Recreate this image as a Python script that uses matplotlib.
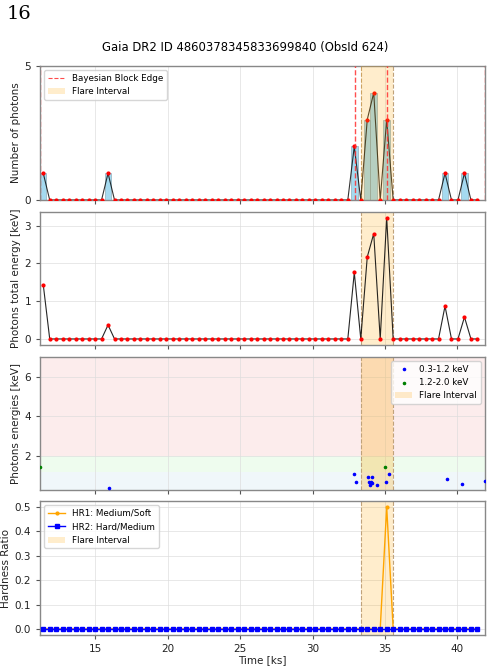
import numpy as np
import matplotlib
matplotlib.use("Agg")
import matplotlib.pyplot as plt
from matplotlib.patches import Patch
from matplotlib.lines import Line2D

# ---------------- data ----------------
title = "Gaia DR2 ID 4860378345833699840 (ObsId 624)"
page_label = "16"

t_start = 11.17
t_stop = 41.90
bin_width = 0.4475
n_bins = 68

counts = [1, 0, 0, 0, 0, 0, 0, 0, 0, 0,
          1, 0, 0, 0, 0, 0, 0, 0, 0, 0,
          0, 0, 0, 0, 0, 0, 0, 0, 0, 0,
          0, 0, 0, 0, 0, 0, 0, 0, 0, 0,
          0, 0, 0, 0, 0, 0, 0, 0, 2, 0,
          3, 4, 0, 3, 0, 0, 0, 0, 0, 0,
          0, 0, 1, 0, 0, 1, 0, 0]

total_energy = [1.44, 0, 0, 0, 0, 0, 0, 0, 0, 0,
                0.37, 0, 0, 0, 0, 0, 0, 0, 0, 0,
                0, 0, 0, 0, 0, 0, 0, 0, 0, 0,
                0, 0, 0, 0, 0, 0, 0, 0, 0, 0,
                0, 0, 0, 0, 0, 0, 0, 0, 1.76, 0,
                2.17, 2.79, 0, 3.21, 0, 0, 0, 0, 0, 0,
                0, 0, 0.87, 0, 0, 0.58, 0, 0]

hr1 = [0.0] * 53 + [0.5] + [0.0] * 14
hr2 = [0.0] * 68

# individual photons
soft_times = [15.94, 32.83, 32.96, 33.79, 33.89, 33.93, 34.00, 34.12, 34.12,
              34.44, 35.03, 35.24, 39.29, 40.28, 41.87]
soft_energies = [0.38, 1.08, 0.68, 0.93, 0.71, 0.53, 0.68, 0.93, 0.65,
                 0.53, 0.68, 1.08, 0.86, 0.58, 0.73]
medium_times = [11.17, 34.99]
medium_energies = [1.44, 1.45]

block_edges = [11.17, 32.90, 35.13, 41.87]
flare_start, flare_end = 33.31, 35.54

soft_band = (0.3, 1.2)
medium_band = (1.2, 2.0)
hard_band = (2.0, 7.0)

# ---------------- figure ----------------
W, H = 491, 666
fig = plt.figure(figsize=(W / 100, H / 100), dpi=100)

fs = 7.5
plt.rcParams.update({
    "font.size": fs,
    "axes.edgecolor": "#888888",
    "xtick.color": "#555555",
    "ytick.color": "#555555",
    "xtick.labelcolor": "#222222",
    "ytick.labelcolor": "#222222",
    "axes.labelcolor": "#222222",
    "xtick.labelsize": fs,
    "ytick.labelsize": fs,
    "axes.labelpad": 2.5,
    "legend.fontsize": 6.3,
})

left, right = 40 / W, 485 / W
panels_px = [(66, 200), (211.7, 345), (356.7, 490), (501, 635)]
axes = []
for i, (top, bot) in enumerate(panels_px):
    rect = [left, 1 - bot / H, right - left, (bot - top) / H]
    if i == 0:
        ax = fig.add_axes(rect)
    else:
        ax = fig.add_axes(rect, sharex=axes[0])
    ax.grid(True, color="#dddddd", linewidth=0.6, alpha=0.8)
    ax.set_axisbelow(True)
    for s in ax.spines.values():
        s.set_linewidth(1.0)
    ax.tick_params(length=3, width=0.8)
    axes.append(ax)
ax1, ax2, ax3, ax4 = axes

centers = t_start + bin_width / 2 + bin_width * np.arange(n_bins)
flare_edge_color = "#c0a27a"

# Panel 1: counts
ax1.bar(centers, counts, width=bin_width, color="skyblue", alpha=0.75,
        edgecolor="#7a9aa8", linewidth=0.5, zorder=2)
ax1.plot(centers, counts, color="black", linewidth=0.8, alpha=0.8, zorder=3)
ax1.plot(centers, counts, "o", color="red", markersize=2.0, zorder=4)
ax1.axvspan(flare_start, flare_end, color="orange", alpha=0.2, zorder=4, linewidth=0)
for e in (flare_start, flare_end):
    ax1.axvline(e, color=flare_edge_color, linestyle="--", linewidth=0.8, zorder=2.4)
for k, e in enumerate(block_edges):
    ax1.axvline(e, color="#ff3030", linestyle="--", linewidth=1.0, alpha=0.85,
                zorder=2.0 if k == 0 else 5)
ax1.set_ylim(0, 5)
ax1.set_yticks([0, 5])
ax1.set_ylabel("Number of photons")
ax1.legend(handles=[Line2D([], [], color="red", linestyle="--", linewidth=0.8, alpha=0.7),
                    Patch(facecolor="orange", alpha=0.2)],
           labels=["Bayesian Block Edge", "Flare Interval"], loc="upper left")

fig.suptitle(title, x=0.5, y=1 - 48 / H, fontsize=8.4, va="center")

# Panel 2: total energy
ax2.plot(centers, total_energy, color="black", linewidth=0.8, alpha=0.85, zorder=3)
ax2.plot(centers, total_energy, "o", color="red", markersize=2.0, zorder=4)
ax2.axvspan(flare_start, flare_end, color="orange", alpha=0.2, zorder=1, linewidth=0)
for e in (flare_start, flare_end):
    ax2.axvline(e, color=flare_edge_color, linestyle="--", linewidth=0.8, zorder=2)
ax2.set_yticks([0, 1, 2, 3])
ax2.set_ylabel("Photons total energy [keV]")

# Panel 3: photon energies
ax3.axhspan(*soft_band, color="lightblue", alpha=0.18, linewidth=0, zorder=0)
ax3.axhspan(*medium_band, color="lightgreen", alpha=0.15, linewidth=0, zorder=0)
ax3.axhspan(*hard_band, color="lightcoral", alpha=0.15, linewidth=0, zorder=0)
ax3.scatter(soft_times, soft_energies, s=2.5, color="blue", zorder=4, label="0.3-1.2 keV")
ax3.scatter(medium_times, medium_energies, s=2.5, color="green", zorder=4, label="1.2-2.0 keV")
ax3.axvspan(flare_start, flare_end, color="orange", alpha=0.25, zorder=1, linewidth=0,
            label="Flare Interval")
for e in (flare_start, flare_end):
    ax3.axvline(e, color=flare_edge_color, linestyle="--", linewidth=0.8, zorder=2)
ax3.set_ylim(0.3, 7.0)
ax3.set_yticks([2, 4, 6])
ax3.set_ylabel("Photons energies [keV]")
leg3 = ax3.legend(loc="upper right", markerscale=1.0)
for h in leg3.legend_handles[2:]:
    h.set_alpha(0.2)

# Panel 4: hardness ratios
ax4.plot(centers, hr1, "-o", color="orange", markersize=2.0, linewidth=1.0,
         label="HR1: Medium/Soft", zorder=3)
ax4.plot(centers, hr2, "-s", color="blue", markersize=2.3, linewidth=1.0,
         label="HR2: Hard/Medium", zorder=4)
ax4.axvspan(flare_start, flare_end, color="orange", alpha=0.2, zorder=1, linewidth=0,
            label="Flare Interval")
for e in (flare_start, flare_end):
    ax4.axvline(e, color=flare_edge_color, linestyle="--", linewidth=0.8, zorder=2)
ax4.set_ylabel("Hardness Ratio")
ax4.set_xlabel("Time [ks]", labelpad=1)
ax4.legend(loc="upper left")

ax4.set_xlim(t_start, t_stop)
ax4.set_xticks([15, 20, 25, 30, 35, 40])
for ax in (ax1, ax2, ax3):
    ax.tick_params(labelbottom=False)

fig.text(7 / W, 1 - 5 / H, page_label, family="DejaVu Serif", fontsize=14,
         va="top", ha="left")

fig.savefig("out.png", dpi=100)
